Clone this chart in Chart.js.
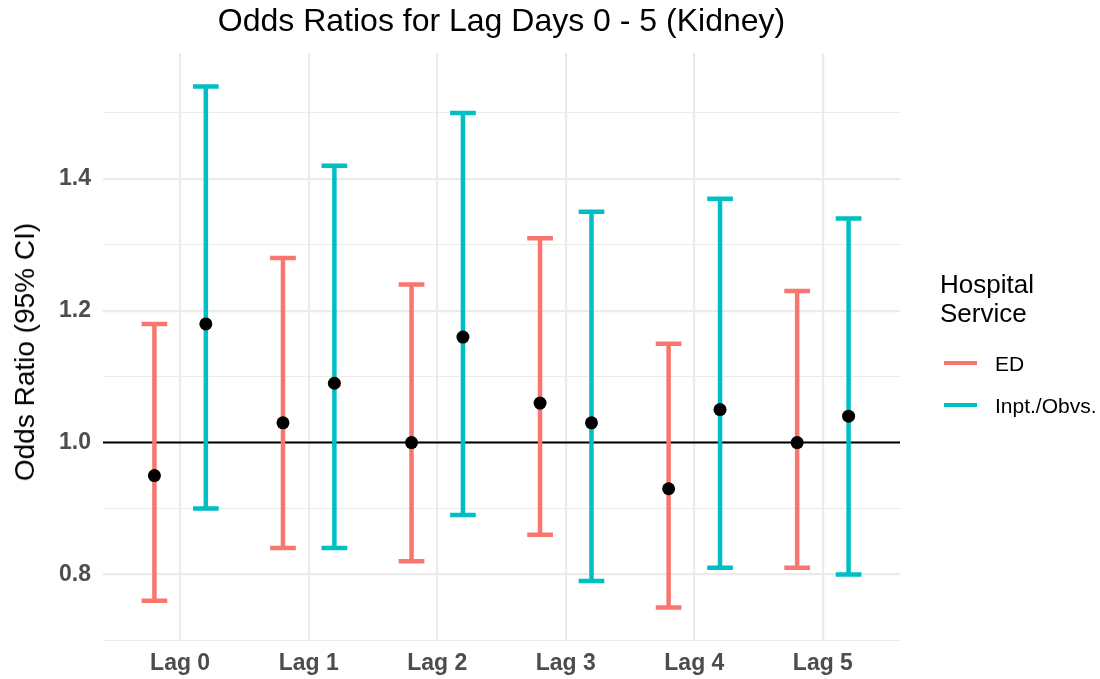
<!DOCTYPE html>
<html>
<head>
<meta charset="utf-8">
<title>Odds Ratios for Lag Days 0 - 5 (Kidney)</title>
<script src="https://cdn.jsdelivr.net/npm/chart.js@4.4.1/dist/chart.umd.min.js"></script>
<style>
  body { margin: 0; background: #fff; font-family: "Liberation Sans", Arial, sans-serif; }
  #wrap { position: relative; width: 1100px; height: 679px; }
  #plot { position: absolute; left: 0; top: 0; }
  .title { position: absolute; left: 103px; width: 797px; top: 4px; text-align: center;
           font-size: 32px; line-height: 32px; color: #000; white-space: nowrap; }
  .ytitle { position: absolute; left: 25px; top: 352px; font-size: 28px; line-height: 28px;
            white-space: nowrap; transform: translate(-50%, -50%) rotate(-90deg); color: #000; }
  .leg-title { position: absolute; left: 940px; top: 270px; font-size: 26px; line-height: 29px; color: #000; }
  .leg-key { position: absolute; left: 944px; width: 33px; height: 4px; }
  .leg-label { position: absolute; left: 995px; font-size: 21px; line-height: 21px; color: #000; white-space: nowrap; }
</style>
</head>
<body>
<div id="wrap">
  <canvas id="plot" width="1100" height="679"></canvas>
  <div class="title">Odds Ratios for Lag Days 0 - 5 (Kidney)</div>
  <div class="ytitle">Odds Ratio (95% CI)</div>
  <div class="leg-title">Hospital<br>Service</div>
  <div id="legend"></div>
</div>
<script>
// lag categories and estimates (odds ratio with 95% CI)
var lags = ["Lag 0", "Lag 1", "Lag 2", "Lag 3", "Lag 4", "Lag 5"];
var services = ["ED", "Inpt./Obvs."];

var edOR   = [0.95, 1.03, 1.00, 1.06, 0.93, 1.00];
var edLow  = [0.76, 0.84, 0.82, 0.86, 0.75, 0.81];
var edHigh = [1.18, 1.28, 1.24, 1.31, 1.15, 1.23];

var inptOR   = [1.18, 1.09, 1.16, 1.03, 1.05, 1.04];
var inptLow  = [0.90, 0.84, 0.89, 0.79, 0.81, 0.80];
var inptHigh = [1.54, 1.42, 1.50, 1.35, 1.37, 1.34];

var yTicks = [0.7, 0.8, 0.9, 1.0, 1.1, 1.2, 1.3, 1.4, 1.5];
var yLabelled = [0.8, 1.0, 1.2, 1.4];

var serviceColors = ['#F8766D', '#00BFC4'];
var dodge = 0.2;          // half the dodge width, in category units
var capHalf = 0.1;        // half width of the error bar caps
var gridColor = '#EBEBEB';

var groups = [
    { low: edLow,   high: edHigh,   est: edOR,   shift: -dodge, color: serviceColors[0] },
    { low: inptLow, high: inptHigh, est: inptOR, shift:  dodge, color: serviceColors[1] }
];

// legend keys
var legendEl = document.getElementById('legend');
services.forEach(function(name, i){
    var cy = 363 + i * 42;
    var key = document.createElement('div');
    key.className = 'leg-key';
    key.style.top = (cy - 2) + 'px';
    key.style.background = serviceColors[i];
    legendEl.appendChild(key);
    var lab = document.createElement('div');
    lab.className = 'leg-label';
    lab.style.top = (cy - 10) + 'px';
    lab.textContent = name;
    legendEl.appendChild(lab);
});

// reference line at 1 and the CI whiskers, drawn under the points
var errorBars = {
    id: 'errorBars',
    beforeDatasetsDraw: function(chart){
        var ctx = chart.ctx, area = chart.chartArea;
        var x = chart.scales.x, y = chart.scales.y;
        ctx.save();
        ctx.strokeStyle = '#000';
        ctx.lineWidth = 2;
        ctx.beginPath();
        ctx.moveTo(area.left, y.getPixelForValue(1));
        ctx.lineTo(area.right, y.getPixelForValue(1));
        ctx.stroke();

        ctx.lineWidth = 4.5;
        ctx.lineCap = 'butt';
        groups.forEach(function(g){
            ctx.strokeStyle = g.color;
            for (var i = 0; i < lags.length; i++) {
                var cx = x.getPixelForValue(i + g.shift);
                var x0 = x.getPixelForValue(i + g.shift - capHalf);
                var x1 = x.getPixelForValue(i + g.shift + capHalf);
                var yl = y.getPixelForValue(g.low[i]);
                var yh = y.getPixelForValue(g.high[i]);
                ctx.beginPath();
                ctx.moveTo(cx, yl); ctx.lineTo(cx, yh);
                ctx.moveTo(x0, yl); ctx.lineTo(x1, yl);
                ctx.moveTo(x0, yh); ctx.lineTo(x1, yh);
                ctx.stroke();
            }
        });
        ctx.restore();
    }
};

var pointSets = groups.map(function(g, k){
    return {
        label: services[k],
        data: g.est.map(function(v, i){ return { x: i + g.shift, y: v }; }),
        backgroundColor: '#000',
        borderWidth: 0,
        pointRadius: 6.5,
        pointHoverRadius: 6.5
    };
});

var tickFont = { family: '"Liberation Sans", Arial, sans-serif', size: 23, weight: 'bold' };

new Chart(document.getElementById('plot'), {
    type: 'scatter',
    data: { datasets: pointSets },
    plugins: [errorBars],
    options: {
        responsive: false,
        animation: false,
        devicePixelRatio: 1,
        layout: { padding: { left: 0, right: 200, top: 53, bottom: 0 } },
        plugins: {
            legend: { display: false },
            tooltip: { enabled: false },
            title: { display: false }
        },
        scales: {
            x: {
                type: 'linear',
                min: -0.6,
                max: 5.6,
                afterBuildTicks: function(scale){
                    scale.ticks = lags.map(function(l, i){ return { value: i }; });
                },
                afterFit: function(scale){ scale.height = 38; },
                ticks: {
                    callback: function(v){ return lags[v]; },
                    color: '#4D4D4D',
                    font: tickFont,
                    padding: 9,
                    maxRotation: 0,
                    autoSkip: false
                },
                grid: { color: gridColor, lineWidth: 2.2, drawTicks: false },
                border: { display: false }
            },
            y: {
                type: 'linear',
                min: 0.699,
                max: 1.591,
                afterBuildTicks: function(scale){
                    scale.ticks = yTicks.map(function(v){ return { value: v }; });
                },
                afterFit: function(scale){ scale.width = 103; },
                ticks: {
                    callback: function(v){
                        return yLabelled.some(function(t){ return Math.abs(t - v) < 1e-6; }) ? v.toFixed(1) : '';
                    },
                    color: '#4D4D4D',
                    font: tickFont,
                    padding: 12,
                    autoSkip: false
                },
                grid: {
                    color: gridColor,
                    drawTicks: false,
                    lineWidth: function(c){
                        var v = c.tick ? c.tick.value : 0;
                        return yLabelled.some(function(t){ return Math.abs(t - v) < 1e-6; }) ? 2.2 : 1.1;
                    }
                },
                border: { display: false }
            }
        }
    }
});
</script>
</body>
</html>
